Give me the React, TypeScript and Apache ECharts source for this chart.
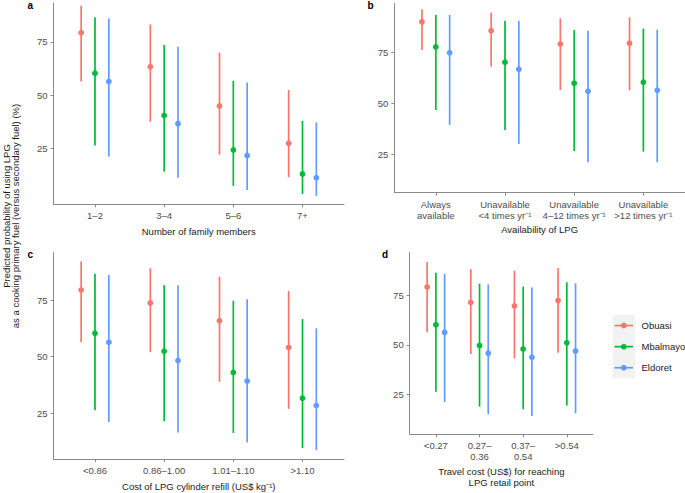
import React, { useEffect, useRef } from "react";
import * as echarts from "echarts";

const cities = ["Obuasi", "Mbalmayo", "Eldoret"];
const cityColors = ["#F8766D", "#00BA38", "#619CFF"];

// Panel a: number of family members
const familyCats = ["1–2", "3–4", "5–6", "7+"];
const aObuasiMid = [79.4, 63.4, 44.9, 27.4];
const aObuasiLow = [56.4, 37.5, 22.0, 11.4];
const aObuasiHigh = [92.1, 83.2, 70.0, 52.4];
const aMbalMid = [60.3, 40.4, 24.2, 12.9];
const aMbalLow = [26.3, 14.0, 7.3, 3.5];
const aMbalHigh = [86.6, 73.6, 56.8, 37.9];
const aEldMid = [56.4, 36.6, 21.6, 11.2];
const aEldLow = [21.1, 11.2, 5.4, 2.6];
const aEldHigh = [86.1, 72.8, 55.9, 37.2];

// Panel b: availability of LPG
const availCats = [
  "Always\navailable",
  "Unavailable\n<4 times yr⁻¹",
  "Unavailable\n4–12 times yr⁻¹",
  "Unavailable\n>12 times yr⁻¹",
];
const bObuasiMid = [89.9, 85.6, 79.1, 79.4];
const bObuasiLow = [76.1, 68.0, 56.5, 56.4];
const bObuasiHigh = [96.1, 94.4, 91.7, 92.1];
const bMbalMid = [77.6, 70.1, 59.8, 60.3];
const bMbalLow = [46.7, 36.9, 26.6, 26.3];
const bMbalHigh = [93.3, 90.4, 85.9, 86.6];
const bEldMid = [74.8, 66.7, 55.9, 56.4];
const bEldLow = [39.4, 30.1, 21.1, 21.1];
const bEldHigh = [93.3, 90.4, 85.5, 86.1];

// Panel c: cost of LPG cylinder refill
const costCats = ["<0.86", "0.86–1.00", "1.01–1.10", ">1.10"];
const cObuasiMid = [79.4, 73.7, 65.9, 54.0];
const cObuasiLow = [56.4, 52.0, 38.9, 26.9];
const cObuasiHigh = [92.1, 89.1, 85.3, 79.0];
const cMbalMid = [60.3, 52.4, 43.0, 31.6];
const cMbalLow = [26.3, 21.5, 16.3, 9.6];
const cMbalHigh = [86.6, 81.6, 74.7, 66.6];
const cEldMid = [56.4, 48.3, 39.2, 28.4];
const cEldLow = [21.1, 16.5, 12.1, 8.7];
const cEldHigh = [86.1, 81.6, 75.4, 62.5];

// Panel d: travel cost
const travelCats = ["<0.27", "0.27–\n0.36", "0.37–\n0.54", ">0.54"];
const dObuasiMid = [79.4, 71.6, 69.8, 72.5];
const dObuasiLow = [56.4, 45.4, 43.2, 46.1];
const dObuasiHigh = [92.1, 88.5, 87.7, 89.0];
const dMbalMid = [60.3, 49.8, 48.0, 51.1];
const dMbalLow = [26.3, 18.8, 17.4, 19.3];
const dMbalHigh = [86.6, 81.1, 79.6, 81.8];
const dEldMid = [56.4, 45.8, 43.8, 47.0];
const dEldLow = [21.1, 14.9, 14.0, 15.4];
const dEldHigh = [86.1, 80.7, 79.2, 81.3];

const yTicks = [25, 50, 75];

const FONT = "'Liberation Sans', Arial, Helvetica, sans-serif";
const AXIS_COLOR = "#8a8a8a";
const LABEL_COLOR = "#4d4d4d";
const TITLE_COLOR = "#1a1a1a";
const FS = 9.5;

type PanelSpec = {
  cats: string[];
  mids: number[][];
  lows: number[][];
  highs: number[][];
  title: string;
  grid: { left: number; top: number; width: number; height: number };
  yMin: number;
  yMax: number;
  nameGap: number;
};

const panels: PanelSpec[] = [
  {
    cats: familyCats,
    mids: [aObuasiMid, aMbalMid, aEldMid],
    lows: [aObuasiLow, aMbalLow, aEldLow],
    highs: [aObuasiHigh, aMbalHigh, aEldHigh],
    title: "Number of family members",
    grid: { left: 53.5, top: 3, width: 290.5, height: 201.3 },
    yMin: -1.34,
    yMax: 93.34,
    nameGap: 22,
  },
  {
    cats: availCats,
    mids: [bObuasiMid, bMbalMid, bEldMid],
    lows: [bObuasiLow, bMbalLow, bEldLow],
    highs: [bObuasiHigh, bMbalHigh, bEldHigh],
    title: "Availability of LPG",
    grid: { left: 394.3, top: 3.3, width: 290.6, height: 189.4 },
    yMin: 6.18,
    yMax: 99.0,
    nameGap: 31.5,
  },
  {
    cats: costCats,
    mids: [cObuasiMid, cMbalMid, cEldMid],
    lows: [cObuasiLow, cMbalLow, cEldLow],
    highs: [cObuasiHigh, cMbalHigh, cEldHigh],
    title: "Cost of LPG cylinder refill (US$ kg⁻¹)",
    grid: { left: 53.5, top: 252.7, width: 290.5, height: 207.3 },
    yMin: 4.77,
    yMax: 95.93,
    nameGap: 22,
  },
  {
    cats: travelCats,
    mids: [dObuasiMid, dMbalMid, dEldMid],
    lows: [dObuasiLow, dMbalLow, dEldLow],
    highs: [dObuasiHigh, dMbalHigh, dEldHigh],
    title: "Travel cost (US$) for reaching\nLPG retail point",
    grid: { left: 409.7, top: 252.7, width: 183.3, height: 181.6 },
    yMin: 4.72,
    yMax: 96.8,
    nameGap: 31.5,
  },
];

const tags = [
  { t: "a", x: 30.5, y: 5 },
  { t: "b", x: 370.5, y: 5 },
  { t: "c", x: 30.5, y: 254 },
  { t: "d", x: 385, y: 254 },
];

function buildOption() {
  const grids: any[] = [];
  const xAxes: any[] = [];
  const yAxes: any[] = [];
  const series: any[] = [];

  panels.forEach((p, pi) => {
    grids.push({ ...p.grid, containLabel: false });
    const n = p.cats.length;
    const catIdx = p.cats.map((_, i) => i);
    xAxes.push({
      gridIndex: pi,
      type: "value",
      min: -0.6,
      max: n - 1 + 0.6,
      splitLine: { show: false },
      axisLine: { show: true, onZero: false, lineStyle: { color: AXIS_COLOR, width: 1 } },
      axisTick: { show: true, length: 3, customValues: catIdx, lineStyle: { color: AXIS_COLOR } },
      axisLabel: {
        customValues: catIdx,
        formatter: (v: number) => p.cats[Math.round(v)] ?? "",
        color: LABEL_COLOR,
        fontFamily: FONT,
        fontSize: FS,
        lineHeight: 11,
        margin: 6,
        align: "center",
      },
      name: p.title,
      nameLocation: "middle",
      nameGap: p.nameGap,
      nameTextStyle: { color: TITLE_COLOR, fontFamily: FONT, fontSize: FS, lineHeight: 11 },
    });
    yAxes.push({
      gridIndex: pi,
      type: "value",
      min: p.yMin,
      max: p.yMax,
      splitLine: { show: false },
      axisLine: { show: true, onZero: false, lineStyle: { color: AXIS_COLOR, width: 1 } },
      axisTick: { show: true, length: 3, customValues: yTicks, lineStyle: { color: AXIS_COLOR } },
      axisLabel: {
        customValues: yTicks,
        color: LABEL_COLOR,
        fontFamily: FONT,
        fontSize: FS,
        margin: 6,
      },
    });

    cities.forEach((city, ci) => {
      const data = catIdx.map((i) => [i, p.lows[ci][i], p.highs[ci][i], p.mids[ci][i]]);
      const off = (ci - 1) * 0.2;
      series.push({
        type: "custom",
        name: city,
        xAxisIndex: pi,
        yAxisIndex: pi,
        data,
        encode: { x: 0, y: [1, 2, 3] },
        renderItem: (params: any, api: any) => {
          const x = api.value(0) + off;
          const lo = api.coord([x, api.value(1)]);
          const hi = api.coord([x, api.value(2)]);
          const mid = api.coord([x, api.value(3)]);
          return {
            type: "group",
            children: [
              {
                type: "line",
                shape: { x1: lo[0], y1: lo[1], x2: hi[0], y2: hi[1] },
                style: { stroke: cityColors[ci], lineWidth: 1.7 },
              },
              {
                type: "circle",
                shape: { cx: mid[0], cy: mid[1], r: 2.9 },
                style: { fill: cityColors[ci] },
              },
            ],
          };
        },
      });
    });
  });

  const graphics: any[] = [];
  tags.forEach((t) => {
    graphics.push({
      type: "text",
      left: t.x - 3,
      top: t.y - 5,
      style: { text: t.t, font: `bold 10px ${FONT}`, fill: "#000" },
    });
  });
  // shared y-axis title
  graphics.push({
    type: "text",
    x: 11,
    y: 216,
    rotation: Math.PI / 2,
    style: {
      text: "Predicted probability of using LPG\nas a cooking primary fuel (versus secondary fuel) (%)",
      font: `${FS}px ${FONT}`,
      fill: TITLE_COLOR,
      align: "center",
      verticalAlign: "middle",
      lineHeight: 9.5,
    },
  });
  // legend
  const legTop = 315;
  const keyH = 21.1;
  graphics.push({
    type: "rect",
    shape: { x: 612.7, y: legTop, width: 22.3, height: keyH * 3 },
    style: { fill: "#f2f2f2" },
  });
  cities.forEach((c, ci) => {
    const cy = legTop + keyH * (ci + 0.5);
    graphics.push({
      type: "line",
      shape: { x1: 614.5, y1: cy, x2: 633, y2: cy },
      style: { stroke: cityColors[ci], lineWidth: 1.7 },
    });
    graphics.push({
      type: "circle",
      shape: { cx: 623.8, cy, r: 2.9 },
      style: { fill: cityColors[ci] },
    });
    graphics.push({
      type: "text",
      x: 641.5,
      y: cy,
      style: { text: c, font: `${FS}px ${FONT}`, fill: TITLE_COLOR, verticalAlign: "middle" },
    });
  });

  return {
    animation: false,
    backgroundColor: "#ffffff",
    grid: grids,
    xAxis: xAxes,
    yAxis: yAxes,
    series,
    graphic: graphics,
  };
}

export default function App() {
  const ref = useRef<HTMLDivElement>(null);
  useEffect(() => {
    if (!ref.current) return;
    const chart = echarts.init(ref.current, undefined, { renderer: "svg" });
    chart.setOption(buildOption());
    return () => chart.dispose();
  }, []);
  return (
    <div
      ref={ref}
      style={{ position: "fixed", left: 0, top: 0, width: 685, height: 493, background: "#fff" }}
    />
  );
}
